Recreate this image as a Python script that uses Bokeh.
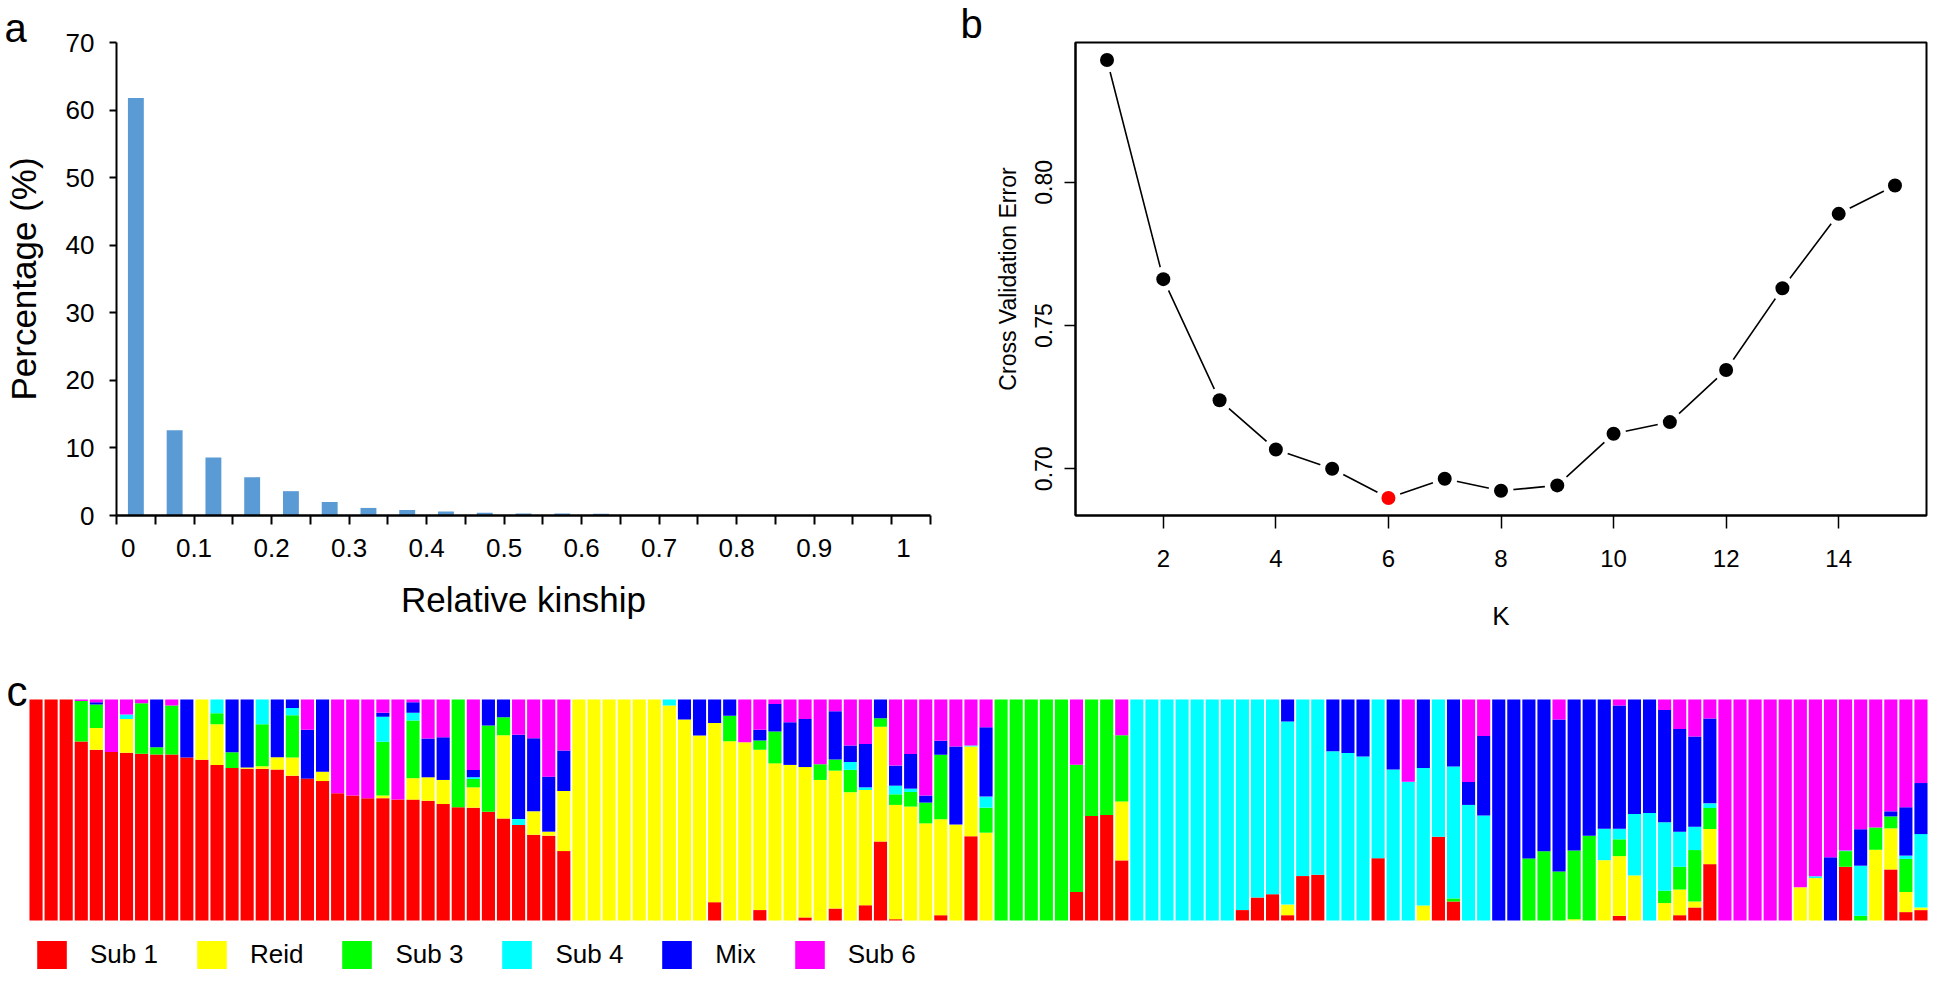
from bokeh.plotting import figure
from bokeh.layouts import column, row
from bokeh.models import (FixedTicker, Label, Legend, LegendItem, ColumnDataSource,
                          PrintfTickFormatter, Range1d, Title)
from bokeh.embed import file_html
from bokeh.resources import INLINE

FONT = "Liberation Sans"

# ---------------- data: panel a (relative kinship histogram) ----------------
kin_pct = [61.8, 12.6, 8.6, 5.67, 3.6, 2.0, 1.12, 0.83, 0.59, 0.39, 0.3,
           0.3, 0.25, 0.05, 0.04, 0.03, 0.02, 0.02, 0.01, 0.01, 0.01]
kin_tick_labels = ["0", "0.1", "0.2", "0.3", "0.4", "0.5", "0.6", "0.7", "0.8", "0.9", "1"]
pct_ticks = [0, 10, 20, 30, 40, 50, 60, 70]

# ---------------- data: panel b (cross validation error) ----------------
k_vals = [1, 2, 3, 4, 5, 6, 7, 8, 9, 10, 11, 12, 13, 14, 15]
cv_err = [0.8427, 0.7662, 0.7239, 0.7067, 0.7000, 0.6898, 0.6965, 0.6923,
          0.6942, 0.7122, 0.7163, 0.7345, 0.7630, 0.7890, 0.7989]

# ---------------- data: panel c (admixture proportions, 126 accessions) ----------------
group_labels = ["Sub 1", "Reid", "Sub 3", "Sub 4", "Mix", "Sub 6"]
group_colors = ["#FF0000", "#FFFF00", "#00FF00", "#00FFFF", "#0000FF", "#FF00FF"]

sub1 = [1, 1, 1, .81, .773, .763, .76, .755, .751, .751,
        .737, .727, .704, .69, .687, .686, .683, .656, .642, .631,
        .576, .566, .553, .553, .547, .547, .542, .527, .512, .511,
        .492, .462, .432, .388, .384, .314, 0, 0, 0, 0,
        0, 0, 0, 0, 0, .083, 0, 0, .047, 0,
        0, .014, 0, .054, 0, .069, .358, .006, 0, 0,
        .024, 0, .381, 0, 0, 0, 0, 0, 0, .129,
        .473, .477, .272, 0, 0, 0, 0, 0, 0, 0,
        .047, .104, .119, .024, .201, .207, 0, 0, 0, .282,
        0, 0, 0, .379, .086, 0, 0, 0, 0, 0,
        0, 0, 0, 0, 0, .021, 0, 0, 0, .024,
        .059, .255, 0, 0, 0, 0, 0, 0, 0, 0,
        .243, 0, 0, .231, .038, .047]
reid = [0, 0, 0, 0, .098, 0, .153, 0, 0, 0,
        0, .273, .184, 0, .005, .012, .056, .082, 0, .042,
        0, 0, 0, .012, 0, .097, .106, .109, 0, .092,
        0, .376, 0, .106, .018, .272, 1, 1, 1, 1,
        1, 1, .973, .909, .837, .811, .811, .807, .725, .711,
        .704, .681, .636, .624, .58, .521, .52, .517, .515, .44,
        .434, .434, .406, .397, 0, 0, 0, 0, 0, 0,
        0, 0, .267, 0, 0, 0, 0, 0, 0, 0,
        0, 0, 0, .048, 0, 0, 0, 0, 0, 0,
        0, 0, .068, 0, 0, 0, 0, 0, 0, 0,
        0, 0, .006, 0, .273, .27, .204, 0, .079, .116,
        .027, .159, 0, 0, 0, 0, 0, .15, .192, 0,
        0, 0, .32, .186, .091, .012]
sub3 = [0, 0, 0, .183, .106, 0, 0, .228, .033, .222,
        0, 0, .05, .071, 0, .19, 0, .192, 0, 0,
        0, 0, 0, .243, 0, .261, 0, 0, .488, .038,
        .39, .082, 0, 0, 0, 0, 0, 0, 0, 0,
        0, 0, 0, 0, 0, 0, .116, 0, .042, .144,
        0, 0, .071, .05, .101, 0, .038, .048, .066, .094,
        .292, 0, 0, .113, 1, 1, 1, 1, 1, .576,
        .527, .523, .299, 0, 0, 0, 0, 0, 0, 0,
        0, 0, 0, 0, 0, 0, 0, 0, 0, 0,
        0, 0, 0, 0, .014, 0, 0, 0, 0, .281,
        .313, .222, .311, .384, 0, .076, 0, 0, .056, .103,
        .233, .095, 0, 0, 0, 0, 0, 0, 0, 0,
        .071, .021, .101, .054, .15, 0]
sub4 = [0, 0, 0, 0, 0, 0, .02, 0, 0, 0,
        0, 0, .062, 0, 0, .112, 0, .032, 0, 0,
        0, 0, 0, .113, 0, .035, 0, 0, 0, .008,
        0, 0, .027, 0, 0, 0, 0, 0, 0, 0,
        0, 0, .027, 0, 0, 0, 0, 0, 0, 0,
        0, 0, 0, 0, .036, .012, 0, .039, .015, 0,
        0, 0, .005, .05, 0, 0, 0, 0, 0, 0,
        0, 0, 0, 1, 1, 1, 1, 1, 1, 1,
        .953, .896, .881, .828, .799, .793, .766, .758, .742, .718,
        .683, .628, .622, .621, .597, .523, .476, 0, 0, 0,
        0, 0, 0, 0, .142, .048, .278, .486, .31, .159,
        .106, .021, 0, 0, 0, 0, 0, 0, .008, 0,
        .003, .227, 0, 0, .015, .332]
mix = [0, 0, 0, 0, .011, 0, 0, 0, .216, 0,
       .263, 0, 0, .239, .308, 0, .261, .039, .221, .327,
       0, 0, 0, .018, 0, .048, .175, .193, 0, .033,
       .118, .08, .382, .331, .249, .183, 0, 0, 0, 0,
       0, 0, 0, .091, .163, .106, .073, 0, .048, .125,
       .193, .218, 0, .219, .074, .196, .085, .091, .157, .032,
       .063, .353, 0, .314, 0, 0, 0, 0, 0, 0,
       0, 0, 0, 0, 0, 0, 0, 0, 0, 0,
       0, 0, 0, .1, 0, 0, .234, .242, .258, 0,
       .317, 0, .31, 0, .303, .104, .36, 1, 1, .719,
       .687, .687, .683, .616, .585, .557, .518, .514, .509, .465,
       .408, .384, 0, 0, 0, 0, 0, 0, 0, .286,
       0, .165, 0, .023, .219, .231]
sub6 = [0, 0, 0, .007, .012, .237, .068, .017, 0, .027,
        0, 0, 0, 0, 0, 0, 0, 0, .137, 0,
        .424, .434, .447, .06, .453, .012, .177, .171, 0, .319,
        0, 0, .159, .175, .349, .231, 0, 0, 0, 0,
        0, 0, 0, 0, 0, 0, 0, .193, .137, .02,
        .103, .088, .293, .053, .208, .201, 0, .299, .246, .435,
        .187, .213, .208, .125, 0, 0, 0, 0, 0, .296,
        0, 0, .162, 0, 0, 0, 0, 0, 0, 0,
        0, 0, 0, 0, 0, 0, 0, 0, 0, 0,
        0, .372, 0, 0, 0, .373, .165, 0, 0, 0,
        0, .091, 0, 0, 0, .027, 0, 0, .047, .133,
        .168, .086, 1, 1, 1, 1, 1, .85, .8, .714,
        .683, .587, .579, .506, .488, .378]


def style_axis(ax, tick_size, label_size):
    ax.axis_line_color = "black"
    ax.major_tick_line_color = "black"
    ax.minor_tick_line_color = None
    ax.major_tick_in = 0
    ax.major_label_text_font = FONT
    ax.major_label_text_font_size = tick_size
    ax.major_label_text_color = "black"
    ax.axis_label_text_font = FONT
    ax.axis_label_text_font_size = label_size
    ax.axis_label_text_font_style = "normal"
    ax.axis_label_text_color = "black"


def letter_title(letter, offset, standoff):
    return Title(text=letter, align="left", offset=offset, standoff=standoff,
                 text_font=FONT, text_font_size="40px", text_font_style="normal",
                 text_color="black", text_line_height=1.0)


TOP_H = 646

# ======================= Panel a =======================
n_bins = len(kin_pct)
pa = figure(width=960, height=TOP_H, x_range=Range1d(0, n_bins), y_range=Range1d(0, 70),
            output_backend="svg", toolbar_location=None, title=letter_title("a", -112, -15),
            min_border_left=112, min_border_right=30, min_border_top=34, min_border_bottom=130)
pa.outline_line_color = None
pa.grid.visible = False
pa.vbar(x=[k + 0.5 for k in range(n_bins)], top=kin_pct, width=0.41,
        fill_color="#5B9BD5", line_color=None)

label_pos = [0.3] + list(range(2, 20, 2)) + [20.3]
xa = pa.xaxis[0]
style_axis(xa, "26px", "35px")
xa.ticker = FixedTicker(ticks=label_pos, minor_ticks=list(range(n_bins + 1)))
xa.major_label_overrides = {pos: lab for pos, lab in zip(label_pos, kin_tick_labels)}
xa.major_tick_line_color = None
xa.major_tick_out = 9
xa.minor_tick_line_color = "black"
xa.minor_tick_line_width = 2
xa.minor_tick_out = 9
xa.minor_tick_in = 0
xa.axis_line_width = 2.5
xa.major_label_standoff = 14
xa.axis_label = "Relative kinship"
xa.axis_label_standoff = 20

ya = pa.yaxis[0]
style_axis(ya, "26px", "35px")
ya.ticker = FixedTicker(ticks=pct_ticks)
ya.major_tick_out = 7
ya.major_tick_line_width = 2
ya.axis_line_width = 2
ya.major_label_standoff = 15
ya.axis_label = "Percentage (%)"
ya.axis_label_standoff = 20

# ======================= Panel b =======================
span = max(cv_err) - min(cv_err)
kspan = max(k_vals) - min(k_vals)
pb = figure(width=970, height=TOP_H,
            x_range=Range1d(min(k_vals) - 0.04 * kspan, max(k_vals) + 0.04 * kspan),
            y_range=Range1d(min(cv_err) - 0.04 * span, max(cv_err) + 0.04 * span),
            output_backend="svg", toolbar_location=None, title=letter_title("b", -115, -7),
            min_border_left=115, min_border_right=4, min_border_top=42, min_border_bottom=131)
pb.grid.visible = False
pb.outline_line_color = "black"
pb.outline_line_width = 2
pt_colors = ["#FF0000" if v == min(cv_err) else "black" for v in cv_err]
pb.line(k_vals, cv_err, line_color="black", line_width=1.6)
pb.scatter(k_vals, cv_err, size=25, fill_color="white", line_color=None)
pb.scatter(k_vals, cv_err, size=14, fill_color=pt_colors, line_color=None)

xb = pb.xaxis[0]
style_axis(xb, "24px", "26px")
xb.ticker = FixedTicker(ticks=[2, 4, 6, 8, 10, 12, 14])
xb.major_tick_out = 13
xb.major_tick_line_width = 1.5
xb.axis_line_width = 2
xb.major_label_standoff = 21
xb.axis_label = "K"
xb.axis_label_standoff = 31

yb = pb.yaxis[0]
style_axis(yb, "23px", "23px")
yb.ticker = FixedTicker(ticks=[0.70, 0.75, 0.80])
yb.formatter = PrintfTickFormatter(format="%.2f")
yb.major_label_orientation = "vertical"
yb.major_tick_out = 11
yb.major_tick_line_width = 1.5
yb.axis_line_width = 2
yb.major_label_standoff = 12
yb.axis_label = "Cross Validation Error"
yb.axis_label_standoff = 12

# ======================= Panel c =======================
n_acc = len(sub1)
comps = [sub1, reid, sub3, sub4, mix, sub6]
totals = [sum(c[i] for c in comps) for i in range(n_acc)]
names = ["sub1", "reid", "sub3", "sub4", "mix", "sub6"]
data = {"x": list(range(n_acc))}
for nm, c in zip(names, comps):
    data[nm] = [c[i] / totals[i] for i in range(n_acc)]
source = ColumnDataSource(data)

# the frame fills the whole canvas so that the letter and legend are not clipped
C_W, C_H = 1930, 974 - TOP_H
bar_left, bar_right, bar_top, bar_bottom = 28, 1928, 53, 274   # pixel box of the bars
px_slot = (bar_right - bar_left) / n_acc
px_unit = bar_bottom - bar_top
pc = figure(width=C_W, height=C_H,
            x_range=Range1d(-0.5 - bar_left / px_slot, n_acc - 0.5 + (C_W - bar_right) / px_slot),
            y_range=Range1d(-(C_H - bar_bottom) / px_unit, 1 + bar_top / px_unit),
            output_backend="svg", toolbar_location=None,
            x_axis_location=None, y_axis_location=None,
            min_border_left=0, min_border_right=0, min_border_top=0, min_border_bottom=0)
pc.outline_line_color = None
pc.grid.visible = False
rs = pc.vbar_stack(names, x="x", width=0.87, fill_color=group_colors, line_color=None,
                   source=source)
legend = Legend(items=[LegendItem(label=lab, renderers=[r]) for lab, r in zip(group_labels, rs)],
                location=(33, 2), orientation="horizontal",
                glyph_width=37, glyph_height=35, label_standoff=20, spacing=35,
                label_text_font=FONT, label_text_font_size="26px", label_text_color="black",
                padding=0, margin=0, border_line_color=None, background_fill_alpha=0)
pc.add_layout(legend)
pc.add_layout(Label(x=6, y=C_H - 45, x_units="screen", y_units="screen", text="c",
                    text_font=FONT, text_font_size="42px", text_color="black",
                    text_baseline="alphabetic", text_align="left"))

layout = column(row(pa, pb), pc)
open("out.html", "w").write(file_html(layout, INLINE))
